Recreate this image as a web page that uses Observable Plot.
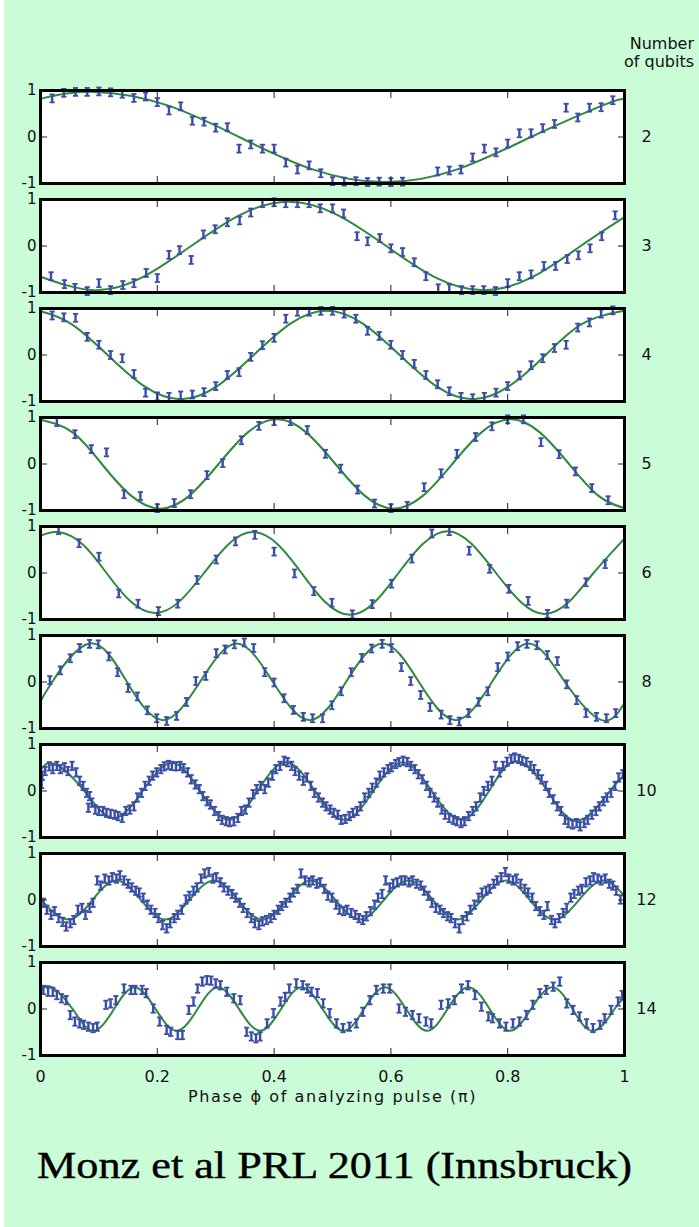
<!DOCTYPE html>
<html><head><meta charset="utf-8">
<script src="https://cdn.jsdelivr.net/npm/d3@7"></script>
<script src="https://cdn.jsdelivr.net/npm/@observablehq/plot@0.6"></script>
<style>
html,body{margin:0;padding:0;}
body{width:699px;height:1227px;background:#cbfcd8;position:relative;overflow:hidden;font-family:"DejaVu Sans",sans-serif;}
#edge{position:absolute;left:0;top:0;width:4px;height:1227px;background:#fff;}
#chart{position:absolute;left:0;top:0;}
#qlabel{position:absolute;right:5px;top:35px;font-size:16px;line-height:18px;text-align:right;color:#111;}
#caption{position:absolute;left:37px;top:1146px;font-family:"Liberation Serif",serif;font-size:38px;line-height:1;white-space:nowrap;transform-origin:0 0;color:#000;-webkit-text-stroke:0.4px #000;}
</style></head><body>
<div id="edge"></div>
<div id="chart"></div>
<div id="qlabel">Number<br>of qubits</div>
<div id="caption">Monz et al PRL 2011 (Innsbruck)</div>
<script>
const qubits = [2, 3, 4, 5, 6, 8, 10, 12, 14];
const xTicks = [0, 0.2, 0.4, 0.6, 0.8, 1];
const innerXTicks = [0.2, 0.4, 0.6, 0.8];
const yTicks = [-1, 0, 1];
const errHalf = [0.085, 0.085, 0.085, 0.085, 0.085, 0.085, 0.09, 0.09, 0.09];

// measured parity values [phase, parity]
const points2 = [[0.02,0.83],[0.04,0.95],[0.06,0.97],[0.08,0.97],[0.10,0.98],[0.12,0.96],[0.14,0.93],[0.16,0.84],[0.18,0.87],[0.20,0.75],[0.22,0.57],[0.24,0.66],[0.26,0.35],[0.28,0.33],[0.30,0.20],[0.32,0.21],[0.34,-0.25],[0.36,-0.16],[0.38,-0.25],[0.40,-0.25],[0.42,-0.55],[0.44,-0.70],[0.46,-0.61],[0.48,-0.78],[0.50,-0.95],[0.52,-0.96],[0.54,-0.95],[0.56,-0.97],[0.58,-0.96],[0.60,-0.97],[0.62,-0.96],[0.68,-0.74],[0.70,-0.72],[0.72,-0.70],[0.74,-0.44],[0.76,-0.25],[0.78,-0.33],[0.80,-0.14],[0.82,0.08],[0.84,0.08],[0.86,0.19],[0.88,0.28],[0.90,0.63],[0.92,0.42],[0.94,0.63],[0.96,0.64],[0.98,0.79]];
const points3 = [[0.018,-0.65],[0.041,-0.82],[0.059,-0.90],[0.08,-0.97],[0.10,-0.80],[0.12,-0.95],[0.141,-0.84],[0.16,-0.80],[0.181,-0.58],[0.20,-0.69],[0.22,-0.19],[0.238,-0.09],[0.258,-0.30],[0.279,0.25],[0.299,0.36],[0.32,0.51],[0.341,0.55],[0.36,0.72],[0.38,0.92],[0.40,0.94],[0.42,0.92],[0.44,0.92],[0.46,0.92],[0.479,0.81],[0.50,0.81],[0.519,0.70],[0.542,0.21],[0.56,0.10],[0.581,0.17],[0.60,-0.05],[0.62,-0.13],[0.64,-0.35],[0.66,-0.65],[0.681,-0.91],[0.70,-0.91],[0.721,-0.95],[0.74,-0.95],[0.759,-0.95],[0.779,-0.97],[0.80,-0.80],[0.82,-0.65],[0.84,-0.61],[0.862,-0.43],[0.882,-0.43],[0.902,-0.28],[0.921,-0.20],[0.941,-0.05],[0.961,0.21],[0.984,0.66]];
const points4 = [[0.02,0.85],[0.04,0.81],[0.06,0.80],[0.08,0.39],[0.10,0.22],[0.12,0.0],[0.14,-0.07],[0.16,-0.41],[0.18,-0.81],[0.20,-0.89],[0.22,-0.90],[0.24,-0.87],[0.26,-0.85],[0.28,-0.80],[0.30,-0.67],[0.32,-0.43],[0.34,-0.37],[0.36,-0.04],[0.38,0.21],[0.40,0.37],[0.42,0.78],[0.44,0.93],[0.46,0.93],[0.48,0.95],[0.50,0.95],[0.52,0.89],[0.54,0.78],[0.56,0.52],[0.58,0.41],[0.60,0.22],[0.62,0.0],[0.64,-0.19],[0.66,-0.43],[0.68,-0.63],[0.70,-0.78],[0.72,-0.90],[0.74,-0.93],[0.76,-0.90],[0.78,-0.81],[0.80,-0.67],[0.82,-0.44],[0.84,-0.22],[0.86,-0.07],[0.88,0.15],[0.90,0.22],[0.92,0.59],[0.94,0.70],[0.96,0.89],[0.98,0.96]];
const points5 = [[0.028,0.90],[0.059,0.64],[0.087,0.32],[0.113,0.25],[0.143,-0.65],[0.171,-0.69],[0.20,-0.95],[0.229,-0.84],[0.257,-0.65],[0.285,-0.24],[0.312,0.02],[0.344,0.51],[0.374,0.82],[0.40,0.92],[0.428,0.92],[0.457,0.73],[0.488,0.22],[0.514,-0.10],[0.543,-0.55],[0.572,-0.85],[0.60,-0.95],[0.628,-0.90],[0.657,-0.50],[0.686,-0.20],[0.713,0.22],[0.745,0.58],[0.773,0.81],[0.80,0.96],[0.827,0.96],[0.857,0.47],[0.888,0.21],[0.916,-0.16],[0.944,-0.52],[0.972,-0.78]];
const points6 = [[0.031,0.92],[0.066,0.64],[0.10,0.35],[0.134,-0.44],[0.167,-0.66],[0.202,-0.82],[0.235,-0.66],[0.268,-0.15],[0.301,0.29],[0.334,0.68],[0.367,0.82],[0.40,0.46],[0.435,-0.01],[0.468,-0.39],[0.499,-0.64],[0.534,-0.89],[0.568,-0.67],[0.601,-0.23],[0.636,0.31],[0.67,0.85],[0.70,0.90],[0.734,0.48],[0.769,0.09],[0.802,-0.34],[0.835,-0.60],[0.868,-0.88],[0.901,-0.66],[0.934,-0.20],[0.967,0.19]];
const points8 = [[0.016,0.04],[0.034,0.25],[0.051,0.51],[0.067,0.73],[0.084,0.82],[0.099,0.81],[0.117,0.55],[0.132,0.21],[0.15,-0.13],[0.166,-0.31],[0.183,-0.61],[0.199,-0.78],[0.216,-0.84],[0.233,-0.73],[0.25,-0.43],[0.266,0.02],[0.283,0.13],[0.301,0.62],[0.316,0.70],[0.332,0.81],[0.349,0.85],[0.365,0.73],[0.384,0.21],[0.40,-0.01],[0.417,-0.35],[0.433,-0.60],[0.45,-0.75],[0.466,-0.78],[0.483,-0.78],[0.499,-0.50],[0.515,-0.20],[0.532,0.21],[0.55,0.52],[0.567,0.72],[0.585,0.82],[0.601,0.73],[0.618,0.32],[0.634,0.02],[0.651,-0.28],[0.667,-0.54],[0.686,-0.70],[0.701,-0.82],[0.717,-0.85],[0.733,-0.67],[0.75,-0.43],[0.766,-0.20],[0.783,0.32],[0.80,0.55],[0.817,0.77],[0.833,0.82],[0.85,0.79],[0.868,0.58],[0.885,0.45],[0.901,-0.05],[0.918,-0.39],[0.934,-0.67],[0.952,-0.75],[0.969,-0.78],[0.985,-0.67]];
const points10 = [[0.002,0.15],[0.003,0.33],[0.008,0.43],[0.015,0.53],[0.021,0.47],[0.028,0.54],[0.034,0.47],[0.041,0.51],[0.047,0.43],[0.054,0.54],[0.061,0.40],[0.067,0.22],[0.073,0.11],[0.079,-0.04],[0.082,-0.36],[0.084,-0.11],[0.088,-0.25],[0.094,-0.40],[0.10,-0.43],[0.107,-0.43],[0.113,-0.47],[0.12,-0.49],[0.127,-0.51],[0.133,-0.54],[0.14,-0.58],[0.146,-0.43],[0.153,-0.40],[0.16,-0.33],[0.166,-0.14],[0.173,-0.04],[0.179,0.11],[0.186,0.22],[0.192,0.33],[0.199,0.40],[0.206,0.47],[0.212,0.53],[0.219,0.56],[0.225,0.54],[0.232,0.53],[0.239,0.54],[0.245,0.49],[0.252,0.40],[0.258,0.25],[0.265,0.14],[0.272,0.04],[0.278,-0.11],[0.285,-0.22],[0.291,-0.29],[0.298,-0.43],[0.305,-0.54],[0.311,-0.62],[0.318,-0.65],[0.324,-0.67],[0.331,-0.65],[0.338,-0.58],[0.344,-0.43],[0.351,-0.40],[0.357,-0.25],[0.364,-0.07],[0.37,0.04],[0.377,0.11],[0.384,0.04],[0.39,0.18],[0.397,0.33],[0.403,0.47],[0.41,0.54],[0.417,0.65],[0.423,0.62],[0.43,0.54],[0.436,0.43],[0.443,0.33],[0.45,0.22],[0.456,0.29],[0.463,0.11],[0.469,-0.04],[0.476,-0.14],[0.483,-0.25],[0.489,-0.33],[0.496,-0.40],[0.502,-0.47],[0.509,-0.51],[0.515,-0.62],[0.522,-0.60],[0.529,-0.54],[0.535,-0.47],[0.542,-0.43],[0.548,-0.33],[0.555,-0.14],[0.562,-0.04],[0.568,0.07],[0.575,0.18],[0.581,0.33],[0.588,0.40],[0.595,0.47],[0.601,0.51],[0.608,0.58],[0.614,0.62],[0.621,0.65],[0.628,0.62],[0.634,0.54],[0.641,0.47],[0.647,0.36],[0.654,0.25],[0.661,0.11],[0.667,-0.04],[0.674,-0.14],[0.68,-0.25],[0.687,-0.40],[0.693,-0.51],[0.70,-0.58],[0.707,-0.62],[0.713,-0.65],[0.72,-0.69],[0.726,-0.65],[0.733,-0.54],[0.74,-0.43],[0.746,-0.33],[0.753,-0.14],[0.759,0.0],[0.766,0.11],[0.773,0.22],[0.779,0.54],[0.786,0.40],[0.792,0.54],[0.799,0.63],[0.806,0.69],[0.812,0.72],[0.819,0.69],[0.825,0.65],[0.832,0.62],[0.839,0.54],[0.845,0.47],[0.852,0.36],[0.858,0.25],[0.865,0.11],[0.871,-0.04],[0.878,-0.18],[0.885,-0.33],[0.891,-0.43],[0.898,-0.62],[0.904,-0.69],[0.911,-0.72],[0.918,-0.69],[0.924,-0.76],[0.931,-0.69],[0.937,-0.62],[0.944,-0.51],[0.951,-0.43],[0.957,-0.33],[0.964,-0.22],[0.97,-0.14],[0.977,-0.04],[0.984,0.11],[0.99,0.29],[0.997,0.36]];
const points12 = [[0.005,-0.06],[0.011,-0.21],[0.018,-0.32],[0.024,-0.24],[0.031,-0.39],[0.038,-0.47],[0.044,-0.57],[0.051,-0.50],[0.057,-0.43],[0.064,-0.21],[0.071,-0.17],[0.077,-0.32],[0.084,-0.17],[0.09,-0.06],[0.097,0.42],[0.103,0.31],[0.11,0.46],[0.117,0.42],[0.123,0.49],[0.13,0.46],[0.136,0.53],[0.143,0.42],[0.15,0.35],[0.156,0.27],[0.163,0.20],[0.169,0.16],[0.176,0.05],[0.183,-0.10],[0.189,-0.21],[0.196,-0.28],[0.202,-0.39],[0.209,-0.54],[0.216,-0.61],[0.222,-0.50],[0.229,-0.39],[0.235,-0.32],[0.242,-0.21],[0.249,0.01],[0.255,0.09],[0.262,0.20],[0.268,0.27],[0.275,0.46],[0.281,0.57],[0.288,0.60],[0.295,0.46],[0.301,0.49],[0.308,0.38],[0.314,0.27],[0.321,0.20],[0.328,0.13],[0.334,0.05],[0.341,-0.06],[0.347,-0.17],[0.354,-0.28],[0.361,-0.39],[0.367,-0.50],[0.374,-0.54],[0.38,-0.46],[0.387,-0.43],[0.394,-0.39],[0.40,-0.32],[0.407,-0.21],[0.413,-0.13],[0.42,-0.06],[0.427,0.05],[0.433,0.16],[0.44,0.24],[0.446,0.57],[0.453,0.42],[0.46,0.38],[0.466,0.42],[0.473,0.35],[0.479,0.38],[0.486,0.24],[0.492,0.09],[0.499,0.05],[0.506,-0.10],[0.512,-0.21],[0.519,-0.24],[0.525,-0.21],[0.532,-0.28],[0.539,-0.32],[0.545,-0.39],[0.552,-0.43],[0.558,-0.35],[0.565,-0.24],[0.572,-0.10],[0.578,0.05],[0.585,0.13],[0.591,0.42],[0.598,0.27],[0.604,0.35],[0.611,0.38],[0.618,0.42],[0.624,0.42],[0.631,0.38],[0.637,0.42],[0.644,0.35],[0.651,0.31],[0.657,0.20],[0.664,0.09],[0.67,-0.06],[0.677,-0.17],[0.684,-0.21],[0.69,-0.28],[0.697,-0.35],[0.703,-0.39],[0.71,-0.50],[0.717,-0.61],[0.723,-0.43],[0.73,-0.35],[0.736,-0.21],[0.743,-0.10],[0.75,0.05],[0.756,0.16],[0.763,0.20],[0.769,0.24],[0.776,0.35],[0.782,0.42],[0.789,0.49],[0.796,0.60],[0.802,0.46],[0.809,0.42],[0.815,0.46],[0.822,0.35],[0.829,0.24],[0.835,0.16],[0.842,0.05],[0.848,-0.13],[0.855,-0.24],[0.862,-0.32],[0.868,-0.13],[0.875,-0.43],[0.881,-0.50],[0.888,-0.39],[0.895,-0.28],[0.901,-0.17],[0.908,0.05],[0.914,0.13],[0.921,0.20],[0.927,0.24],[0.934,0.38],[0.941,0.42],[0.947,0.49],[0.954,0.46],[0.96,0.42],[0.967,0.46],[0.974,0.35],[0.98,0.31],[0.986,0.20],[0.993,0.01]];
const points14 = [[0.005,0.41],[0.013,0.37],[0.021,0.37],[0.028,0.30],[0.036,0.23],[0.044,0.19],[0.051,-0.13],[0.059,-0.27],[0.067,-0.31],[0.074,-0.34],[0.082,-0.38],[0.09,-0.41],[0.097,-0.38],[0.112,0.09],[0.12,0.12],[0.129,0.19],[0.143,0.44],[0.155,0.41],[0.162,0.41],[0.174,0.41],[0.181,0.34],[0.193,0.01],[0.204,-0.27],[0.216,-0.45],[0.223,-0.49],[0.235,-0.56],[0.243,-0.56],[0.254,-0.02],[0.262,0.16],[0.269,0.44],[0.277,0.59],[0.285,0.62],[0.292,0.61],[0.30,0.55],[0.308,0.51],[0.319,0.37],[0.331,0.23],[0.342,0.19],[0.353,-0.49],[0.361,-0.59],[0.369,-0.63],[0.376,-0.59],[0.388,-0.31],[0.399,-0.09],[0.411,0.16],[0.419,0.26],[0.426,0.44],[0.438,0.55],[0.449,0.51],[0.457,0.44],[0.464,0.37],[0.474,0.34],[0.484,0.12],[0.495,-0.09],[0.507,-0.31],[0.518,-0.41],[0.529,-0.38],[0.541,-0.31],[0.552,-0.06],[0.564,0.19],[0.575,0.41],[0.587,0.44],[0.598,0.44],[0.614,0.01],[0.625,-0.06],[0.637,-0.13],[0.648,-0.20],[0.66,-0.27],[0.669,-0.31],[0.686,0.09],[0.698,0.12],[0.709,0.19],[0.721,0.44],[0.732,0.51],[0.744,0.30],[0.755,0.05],[0.767,-0.16],[0.774,-0.20],[0.786,-0.31],[0.797,-0.38],[0.809,-0.31],[0.82,-0.27],[0.832,-0.13],[0.843,0.09],[0.855,0.34],[0.866,0.41],[0.878,0.48],[0.889,0.59],[0.901,0.12],[0.912,-0.02],[0.923,-0.16],[0.935,-0.31],[0.946,-0.41],[0.958,-0.34],[0.966,-0.20],[0.977,-0.02],[0.989,0.16],[0.996,0.30]];
const pointsByPanel = [points2, points3, points4, points5, points6, points8, points10, points12, points14];

const fit2 = [[0,0.82],[0.09,0.97],[0.215,0.69],[0.34,0],[0.465,-0.69],[0.59,-0.97],[0.715,-0.69],[0.84,0],[0.965,0.69],[1.0,0.82]];
const fit3 = [[0,-0.66],[0.092,-0.95],[0.175,-0.67],[0.258,0],[0.342,0.67],[0.425,0.95],[0.508,0.67],[0.592,0],[0.675,-0.67],[0.758,-0.95],[0.842,-0.67],[0.925,0],[1.0,0.62]];
const fit4 = [[0,0.94],[0.0525,0.67],[0.115,0],[0.1775,-0.67],[0.24,-0.95],[0.3025,-0.67],[0.365,0],[0.4275,0.67],[0.49,0.95],[0.5525,0.67],[0.615,0],[0.6775,-0.67],[0.74,-0.95],[0.8025,-0.67],[0.865,0],[0.9275,0.67],[1.0,0.95]];
const fit5 = [[0,0.95],[0.055,0.68],[0.105,0],[0.155,-0.68],[0.205,-0.96],[0.255,-0.68],[0.305,0],[0.355,0.68],[0.405,0.96],[0.455,0.68],[0.505,0],[0.555,-0.68],[0.605,-0.96],[0.655,-0.68],[0.705,0],[0.755,0.68],[0.805,0.96],[0.855,0.68],[0.905,0],[0.955,-0.68],[1.0,-0.95]];
const fit6 = [[0,0.8],[0.03,0.88],[0.072,0.62],[0.113,0],[0.155,-0.62],[0.197,-0.86],[0.238,-0.61],[0.28,0],[0.322,0.62],[0.363,0.88],[0.405,0.63],[0.447,0],[0.488,-0.63],[0.53,-0.9],[0.572,-0.63],[0.613,0],[0.655,0.63],[0.697,0.9],[0.738,0.63],[0.78,0],[0.822,-0.62],[0.863,-0.88],[0.905,-0.62],[0.947,0],[1.0,0.74]];
const fit8 = [[0,-0.42],[0.02,0],[0.085,0.83],[0.148,0],[0.21,-0.82],[0.273,0],[0.336,0.83],[0.398,0],[0.461,-0.82],[0.523,0],[0.586,0.83],[0.648,0],[0.711,-0.82],[0.773,0],[0.836,0.83],[0.898,0],[0.961,-0.82],[1.0,-0.45]];
const fit10 = [[0,0.45],[0.025,0.58],[0.075,0],[0.125,-0.58],[0.175,0],[0.225,0.6],[0.273,0],[0.323,-0.62],[0.372,0],[0.42,0.62],[0.47,0],[0.52,-0.62],[0.57,0],[0.62,0.62],[0.67,0],[0.72,-0.62],[0.768,0],[0.815,0.64],[0.868,0],[0.92,-0.64],[0.975,0],[1.0,0.33]];
const fit12 = [[0,0.02],[0.047,-0.42],[0.089,0],[0.13,0.42],[0.172,0],[0.213,-0.42],[0.255,0],[0.297,0.42],[0.338,0],[0.38,-0.42],[0.422,0],[0.463,0.42],[0.505,0],[0.547,-0.42],[0.588,0],[0.63,0.42],[0.672,0],[0.713,-0.42],[0.755,0],[0.797,0.42],[0.838,0],[0.88,-0.42],[0.922,0],[0.963,0.42],[1.0,0.08]];
const fit14 = [[0,0.4],[0.019,0.47],[0.055,0],[0.09,-0.47],[0.126,0],[0.161,0.47],[0.197,0],[0.233,-0.47],[0.269,0],[0.304,0.47],[0.34,0],[0.376,-0.47],[0.412,0],[0.447,0.47],[0.483,0],[0.519,-0.47],[0.554,0],[0.59,0.47],[0.626,0],[0.662,-0.47],[0.697,0],[0.733,0.47],[0.769,0],[0.804,-0.47],[0.84,0],[0.876,0.47],[0.911,0],[0.947,-0.47],[0.983,0],[1.0,0.25]];
const fitsByPanel = [fit2, fit3, fit4, fit5, fit6, fit8, fit10, fit12, fit14];

const points = [];
const fits = [];
qubits.forEach((n, i) => {
  pointsByPanel[i].forEach(([x, y]) => points.push({n, x, y, lo: y - errHalf[i], hi: y + errHalf[i]}));
  fitsByPanel[i].forEach(([x, y]) => fits.push({n, x, y}));
});

const blue = "#3a4ca8";
const green = "#2e8a3c";
const capSymbol = {draw(ctx, size) { const w = Math.sqrt(size / Math.PI); ctx.moveTo(-w, 0); ctx.lineTo(w, 0); }};

const chart = Plot.plot({
  width: 699,
  height: 1110,
  marginLeft: 40,
  marginRight: 75,
  marginTop: 86,
  marginBottom: 52,
  style: {background: "transparent", fontFamily: "DejaVu Sans, sans-serif", fontSize: "15px", color: "#111", overflow: "visible"},
  x: {domain: [0, 1]},
  y: {domain: [-1, 1]},
  fy: {domain: qubits, paddingInner: 0.15, paddingOuter: 0, axis: null},
  marks: [
    Plot.frame({fill: "white", stroke: "none"}),
    Plot.line(fits, {x: "x", y: "y", fy: "n", curve: "natural", stroke: green, strokeWidth: 2}),
    Plot.ruleX(points, {x: "x", y1: "lo", y2: "hi", fy: "n", stroke: blue, strokeWidth: 2.4}),
    Plot.dot(points, {x: "x", y: "hi", fy: "n", symbol: capSymbol, r: 2.6, stroke: blue, strokeWidth: 1.8, fill: "none"}),
    Plot.dot(points, {x: "x", y: "lo", fy: "n", symbol: capSymbol, r: 2.6, stroke: blue, strokeWidth: 1.8, fill: "none"}),
    Plot.axisX({anchor: "top", ticks: innerXTicks, tickSize: -7, tickFormat: () => "", label: null, facetAnchor: null, stroke: "#222"}),
    Plot.axisX({anchor: "bottom", ticks: innerXTicks, tickSize: -7, tickFormat: () => "", label: null, facetAnchor: null, stroke: "#222"}),
    Plot.axisY({anchor: "left", ticks: [0], tickSize: -7, tickFormat: () => "", label: null, facetAnchor: null, stroke: "#222"}),
    Plot.axisY({anchor: "right", ticks: [0], tickSize: -7, tickFormat: () => "", label: null, facetAnchor: null, stroke: "#222"}),
    Plot.axisY({anchor: "left", ticks: yTicks, tickSize: 0, tickPadding: 4, tickFormat: d => String(d), label: null, facetAnchor: null}),
    Plot.axisX({anchor: "bottom", ticks: xTicks, tickSize: 0, tickPadding: 15, tickFormat: d => String(d), label: "Phase ϕ of analyzing pulse (π)", labelAnchor: "center", labelArrow: "none", labelOffset: 46, fontSize: 16}),
    Plot.text(qubits, {fy: d => d, text: d => String(d), frameAnchor: "right", dx: 22, textAnchor: "middle", fontSize: 16}),
    Plot.frame({stroke: "black", strokeWidth: 3})
  ]
});
document.getElementById("chart").appendChild(chart);
d3.select(chart).selectAll('g[aria-label="x-axis label"] text').style("letter-spacing", "1.6px");

const cap = document.getElementById("caption");
const w = cap.getBoundingClientRect().width;
cap.style.transform = `scaleX(${595 / w})`;
</script>
</body></html>
